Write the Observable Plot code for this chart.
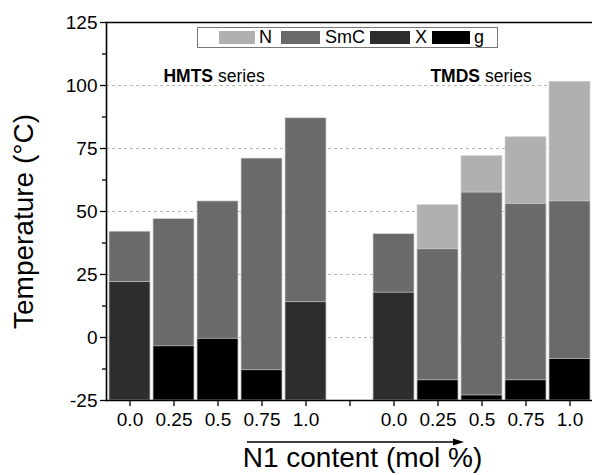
<!DOCTYPE html>
<html>
<head>
<meta charset="utf-8">
<script src="https://cdn.jsdelivr.net/npm/d3@7"></script>
<script src="https://cdn.jsdelivr.net/npm/@observablehq/plot@0.6"></script>
<style>
  body { margin: 0; background: #fff; font-family: "Liberation Sans", Arial, Helvetica, sans-serif; }
  #chart { position: relative; width: 592px; height: 475px; overflow: hidden; }
  #chart svg { display: block; font-family: "Liberation Sans", Arial, Helvetica, sans-serif; }
  .legend { position: absolute; left: 197px; top: 27px; width: 299px; height: 19px;
            border: 1px solid #777; background: #fff; font-size: 18px; color: #000; }
  .legend .sw { position: absolute; top: 3px; height: 13px; }
  .legend .lb { position: absolute; top: -1px; line-height: 21px; }
</style>
</head>
<body>
<div id="chart"></div>
<script>
// Transition temperatures (°C) per composition; each phase band runs from -25 up to its top.
const slots = ["H0", "H1", "H2", "H3", "H4", "gap", "T0", "T1", "T2", "T3", "T4"];
const tickLabels = ["0.0", "0.25", "0.5", "0.75", "1.0", "", "0.0", "0.25", "0.5", "0.75", "1.0"];

const nematicTop = [null, null, null, null, null, null, null, 52.5, 72, 79.5, 101.5];
const smecticTop = [42, 47, 54, 71, 87, null, 41, 35, 57.5, 53, 54];
const crystalTop = [22, null, null, null, 14, null, 17.8, null, null, null, null];
const glassTop   = [null, -3.5, -0.5, -13, null, null, null, -17, -23, -17, -8.5];

const phases = ["N", "SmC", "X", "g"];
const phaseColors = ["#b0b0b0", "#6a6a6a", "#2d2d2d", "#000000"];
const yTicks = [-25, 0, 25, 50, 75, 100, 125];
const yMinorTicks = [-12.5, 12.5, 37.5, 62.5, 87.5, 112.5];
const gridValues = [0, 25, 50, 75, 100];

// Layers drawn back to front: N, SmC, X, g
const layers = [nematicTop, smecticTop, crystalTop, glassTop];
const rows = [];
layers.forEach((tops, k) => {
  tops.forEach((top, i) => {
    if (top != null) rows.push({slot: slots[i], phase: phases[k], top});
  });
});

const labelOf = d => tickLabels[slots.indexOf(d)];

const plot = Plot.plot({
  width: 592,
  height: 475,
  marginLeft: 106,
  marginRight: 0,
  marginTop: 22,
  marginBottom: 75,
  style: {fontFamily: "Liberation Sans, Arial, sans-serif", color: "#000", background: "#fff"},
  x: {domain: slots, paddingInner: 0.07, paddingOuter: 0.035, label: null},
  y: {domain: [-25, 125], label: null},
  color: {domain: phases, range: phaseColors},
  marks: [
    Plot.gridY(gridValues, {stroke: "#b8b8b8", strokeOpacity: 1, strokeDasharray: "3,3", strokeWidth: 1}),
    Plot.barY(rows, {x: "slot", y1: -25, y2: "top", fill: "phase", stroke: "#d4d4d4", strokeWidth: 0.7}),
    Plot.axisY({ticks: yTicks, tickSize: 6, tickPadding: 3, fontSize: 19, tickFormat: d => String(d), label: null, strokeWidth: 1.3}),
    Plot.axisY({ticks: yMinorTicks, tickSize: 4, text: null, label: null, strokeWidth: 1.3}),
    Plot.axisX({tickSize: 6, tickPadding: 6, fontSize: 19, tickFormat: labelOf, label: null, strokeWidth: 1.3}),
    Plot.frame({anchor: "left", strokeWidth: 1.6}),
    Plot.ruleY([-25, 125], {strokeWidth: 1.6}),
    // series titles
    Plot.text(["HMTS"], {x: () => "H2", y: 103.5, textAnchor: "end", dx: -5, fontWeight: "bold", fontSize: 17.5}),
    Plot.text(["series"], {x: () => "H2", y: 103.5, textAnchor: "start", dx: 0, fontSize: 17.5}),
    Plot.text(["TMDS"], {x: () => "T2", y: 103.5, textAnchor: "end", dx: -2, fontWeight: "bold", fontSize: 17.5}),
    Plot.text(["series"], {x: () => "T2", y: 103.5, textAnchor: "start", dx: 3, fontSize: 17.5}),
    // axis titles
    Plot.text(["Temperature (°C)"], {frameAnchor: "left", rotate: -90, textAnchor: "middle", lineAnchor: "middle", dx: -82, dy: 10, fontSize: 28}),
    Plot.text(["N1 content (mol %)"], {frameAnchor: "bottom", textAnchor: "middle", lineAnchor: "middle", dx: 13, dy: 58, fontSize: 28})
  ]
});

const chart = document.getElementById("chart");
chart.appendChild(plot);

// arrow under the composition axis
const svg = d3.select(plot);
svg.append("line")
  .attr("x1", 247).attr("x2", 455).attr("y1", 442).attr("y2", 442)
  .attr("stroke", "#000").attr("stroke-width", 1.3);
svg.append("path")
  .attr("d", "M464,442 L453,438.5 L453,445.5 Z")
  .attr("fill", "#000");

// legend
const legend = document.createElement("div");
legend.className = "legend";
const swatchX = [21, 83, 172, 234];
const swatchW = [36, 39, 40, 38];
const textX = [61, 127, 217, 276];
phases.forEach((p, i) => {
  const sw = document.createElement("div");
  sw.className = "sw";
  sw.style.left = swatchX[i] + "px";
  sw.style.width = swatchW[i] + "px";
  sw.style.background = phaseColors[i];
  legend.appendChild(sw);
  const lb = document.createElement("div");
  lb.className = "lb";
  lb.style.left = textX[i] + "px";
  lb.textContent = p;
  legend.appendChild(lb);
});
chart.appendChild(legend);
</script>
</body>
</html>
